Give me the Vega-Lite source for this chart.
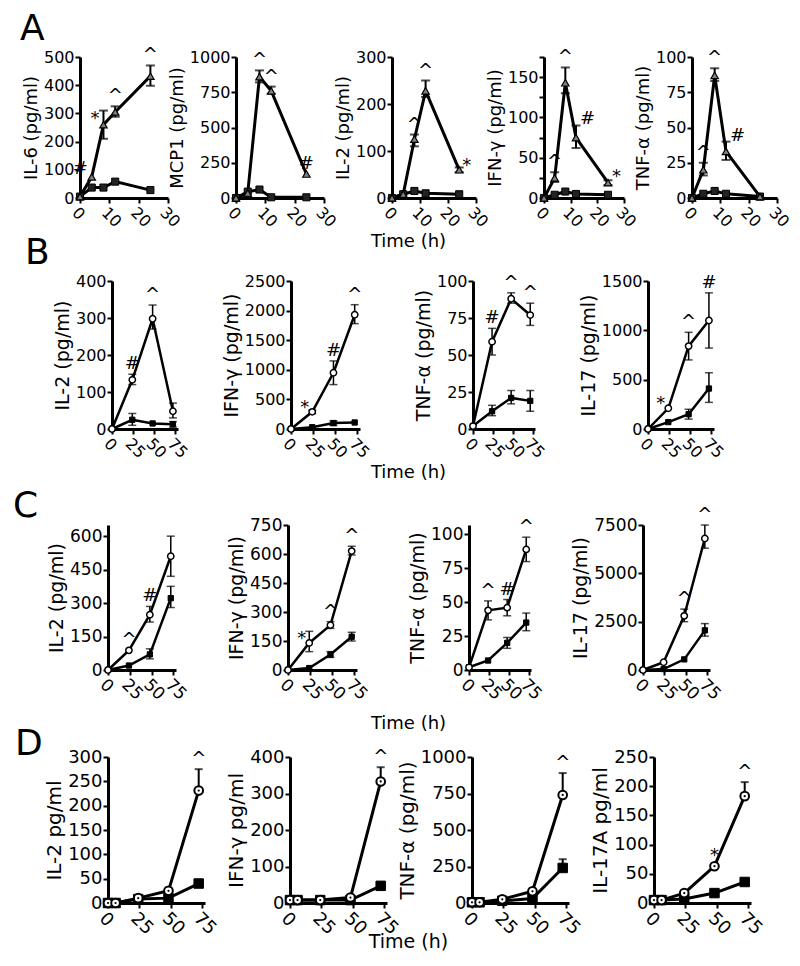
{
"$schema":"https://vega.github.io/schema/vega-lite/v6.json",
"padding":{"left":0,"top":11,"right":5,"bottom":5},
"background":"white",
"datasets":{
"pts":[
{"p":"A1","g":"T","t":0,"v":5},{"p":"A1","g":"T","t":4,"v":75},{"p":"A1","g":"T","t":8,"v":260,"lo":210,"hi":310},{"p":"A1","g":"T","t":12,"v":305,"lo":288,"hi":325},{"p":"A1","g":"T","t":24,"v":432,"lo":398,"hi":470},
{"p":"A1","g":"C","t":0,"v":5},{"p":"A1","g":"C","t":4,"v":37},{"p":"A1","g":"C","t":8,"v":37},{"p":"A1","g":"C","t":12,"v":58},{"p":"A1","g":"C","t":24,"v":28},
{"p":"A2","g":"T","t":0,"v":0},{"p":"A2","g":"T","t":4,"v":35},{"p":"A2","g":"T","t":8,"v":860,"lo":820,"hi":905},{"p":"A2","g":"T","t":12,"v":760,"lo":740,"hi":790},{"p":"A2","g":"T","t":24,"v":170},
{"p":"A2","g":"C","t":0,"v":0},{"p":"A2","g":"C","t":4,"v":45},{"p":"A2","g":"C","t":8,"v":60},{"p":"A2","g":"C","t":12,"v":5},{"p":"A2","g":"C","t":24,"v":5},
{"p":"A3","g":"T","t":0,"v":0},{"p":"A3","g":"T","t":4,"v":8},{"p":"A3","g":"T","t":8,"v":125,"lo":110,"hi":135},{"p":"A3","g":"T","t":12,"v":228,"lo":215,"hi":250},{"p":"A3","g":"T","t":24,"v":60,"lo":55,"hi":65},
{"p":"A3","g":"C","t":0,"v":0},{"p":"A3","g":"C","t":4,"v":8},{"p":"A3","g":"C","t":8,"v":15},{"p":"A3","g":"C","t":12,"v":10},{"p":"A3","g":"C","t":24,"v":8},
{"p":"A4","g":"T","t":0,"v":0},{"p":"A4","g":"T","t":4,"v":25,"lo":20,"hi":32},{"p":"A4","g":"T","t":8,"v":143,"lo":130,"hi":162},{"p":"A4","g":"T","t":12,"v":75,"lo":62,"hi":90},{"p":"A4","g":"T","t":24,"v":19,"lo":16,"hi":22},
{"p":"A4","g":"C","t":0,"v":0},{"p":"A4","g":"C","t":4,"v":4},{"p":"A4","g":"C","t":8,"v":8},{"p":"A4","g":"C","t":12,"v":5},{"p":"A4","g":"C","t":24,"v":4},
{"p":"A5","g":"T","t":0,"v":0},{"p":"A5","g":"T","t":4,"v":20,"lo":16,"hi":25},{"p":"A5","g":"T","t":8,"v":87,"lo":83,"hi":92},{"p":"A5","g":"T","t":12,"v":33,"lo":27,"hi":40},{"p":"A5","g":"T","t":24,"v":1},
{"p":"A5","g":"C","t":0,"v":0},{"p":"A5","g":"C","t":4,"v":3},{"p":"A5","g":"C","t":8,"v":5},{"p":"A5","g":"C","t":12,"v":3},{"p":"A5","g":"C","t":24,"v":1},
{"p":"B1","g":"T","t":0,"v":0},{"p":"B1","g":"T","t":24,"v":133,"lo":120,"hi":148},{"p":"B1","g":"T","t":48,"v":298,"lo":270,"hi":335},{"p":"B1","g":"T","t":72,"v":48,"lo":30,"hi":70},
{"p":"B1","g":"C","t":0,"v":0},{"p":"B1","g":"C","t":24,"v":25,"lo":10,"hi":42},{"p":"B1","g":"C","t":48,"v":15},{"p":"B1","g":"C","t":72,"v":13,"lo":5,"hi":20},
{"p":"B2","g":"T","t":0,"v":0},{"p":"B2","g":"T","t":24,"v":290,"lo":260,"hi":320},{"p":"B2","g":"T","t":48,"v":950,"lo":750,"hi":1150},{"p":"B2","g":"T","t":72,"v":1930,"lo":1780,"hi":2100},
{"p":"B2","g":"C","t":0,"v":0},{"p":"B2","g":"C","t":24,"v":30},{"p":"B2","g":"C","t":48,"v":100,"lo":60,"hi":140},{"p":"B2","g":"C","t":72,"v":110},
{"p":"B3","g":"T","t":0,"v":2},{"p":"B3","g":"T","t":24,"v":59,"lo":50,"hi":68},{"p":"B3","g":"T","t":48,"v":88,"lo":85,"hi":92},{"p":"B3","g":"T","t":72,"v":77,"lo":70,"hi":85},
{"p":"B3","g":"C","t":0,"v":2},{"p":"B3","g":"C","t":24,"v":12,"lo":9,"hi":16},{"p":"B3","g":"C","t":48,"v":21,"lo":17,"hi":26},{"p":"B3","g":"C","t":72,"v":19,"lo":12,"hi":26},
{"p":"B4","g":"T","t":0,"v":0},{"p":"B4","g":"T","t":24,"v":210},{"p":"B4","g":"T","t":48,"v":840,"lo":700,"hi":980},{"p":"B4","g":"T","t":72,"v":1100,"lo":820,"hi":1380},
{"p":"B4","g":"C","t":0,"v":0},{"p":"B4","g":"C","t":24,"v":70},{"p":"B4","g":"C","t":48,"v":150,"lo":100,"hi":200},{"p":"B4","g":"C","t":72,"v":410,"lo":270,"hi":570},
{"p":"C1","g":"T","t":0,"v":0},{"p":"C1","g":"T","t":24,"v":88},{"p":"C1","g":"T","t":48,"v":248,"lo":215,"hi":285},{"p":"C1","g":"T","t":72,"v":510,"lo":420,"hi":600},
{"p":"C1","g":"C","t":0,"v":0},{"p":"C1","g":"C","t":24,"v":20},{"p":"C1","g":"C","t":48,"v":70,"lo":50,"hi":95},{"p":"C1","g":"C","t":72,"v":322,"lo":280,"hi":375},
{"p":"C2","g":"T","t":0,"v":0},{"p":"C2","g":"T","t":24,"v":140,"lo":95,"hi":200},{"p":"C2","g":"T","t":48,"v":232,"lo":215,"hi":250},{"p":"C2","g":"T","t":72,"v":615,"lo":595,"hi":640},
{"p":"C2","g":"C","t":0,"v":0},{"p":"C2","g":"C","t":24,"v":10},{"p":"C2","g":"C","t":48,"v":80,"lo":65,"hi":95},{"p":"C2","g":"C","t":72,"v":172,"lo":150,"hi":195},
{"p":"C3","g":"T","t":0,"v":2},{"p":"C3","g":"T","t":24,"v":44,"lo":37,"hi":51},{"p":"C3","g":"T","t":48,"v":46,"lo":40,"hi":52},{"p":"C3","g":"T","t":72,"v":89,"lo":80,"hi":98},
{"p":"C3","g":"C","t":0,"v":2},{"p":"C3","g":"C","t":24,"v":7},{"p":"C3","g":"C","t":48,"v":20,"lo":16,"hi":24},{"p":"C3","g":"C","t":72,"v":35,"lo":29,"hi":42},
{"p":"C4","g":"T","t":0,"v":0},{"p":"C4","g":"T","t":24,"v":400},{"p":"C4","g":"T","t":48,"v":2800,"lo":2500,"hi":3150},{"p":"C4","g":"T","t":72,"v":6800,"lo":6300,"hi":7500},
{"p":"C4","g":"C","t":0,"v":0},{"p":"C4","g":"C","t":24,"v":50},{"p":"C4","g":"C","t":48,"v":550},{"p":"C4","g":"C","t":72,"v":2050,"lo":1750,"hi":2400},
{"p":"D1","g":"T","t":0,"v":0},{"p":"D1","g":"T","t":6,"v":0},{"p":"D1","g":"T","t":24,"v":10},{"p":"D1","g":"T","t":48,"v":25},{"p":"D1","g":"T","t":72,"v":231,"lo":231,"hi":275},
{"p":"D1","g":"C","t":0,"v":0},{"p":"D1","g":"C","t":6,"v":0},{"p":"D1","g":"C","t":24,"v":8},{"p":"D1","g":"C","t":48,"v":10},{"p":"D1","g":"C","t":72,"v":40},
{"p":"D2","g":"T","t":0,"v":8},{"p":"D2","g":"T","t":6,"v":8},{"p":"D2","g":"T","t":24,"v":8},{"p":"D2","g":"T","t":48,"v":15},{"p":"D2","g":"T","t":72,"v":333,"lo":333,"hi":372},
{"p":"D2","g":"C","t":0,"v":8},{"p":"D2","g":"C","t":6,"v":8},{"p":"D2","g":"C","t":24,"v":8},{"p":"D2","g":"C","t":48,"v":8},{"p":"D2","g":"C","t":72,"v":47},
{"p":"D3","g":"T","t":0,"v":5},{"p":"D3","g":"T","t":6,"v":5},{"p":"D3","g":"T","t":24,"v":25},{"p":"D3","g":"T","t":48,"v":80},{"p":"D3","g":"T","t":72,"v":740,"lo":740,"hi":890},
{"p":"D3","g":"C","t":0,"v":5},{"p":"D3","g":"C","t":6,"v":5},{"p":"D3","g":"C","t":24,"v":15},{"p":"D3","g":"C","t":48,"v":30},{"p":"D3","g":"C","t":72,"v":240,"lo":240,"hi":300},
{"p":"D4","g":"T","t":0,"v":5},{"p":"D4","g":"T","t":6,"v":5},{"p":"D4","g":"T","t":24,"v":17},{"p":"D4","g":"T","t":48,"v":63},{"p":"D4","g":"T","t":72,"v":183,"lo":183,"hi":207},
{"p":"D4","g":"C","t":0,"v":5},{"p":"D4","g":"C","t":6,"v":5},{"p":"D4","g":"C","t":24,"v":7},{"p":"D4","g":"C","t":48,"v":17},{"p":"D4","g":"C","t":72,"v":36}
],
"notes":[
{"p":"A1","t":4,"y":80,"s":"#","side":"l"},{"p":"A1","t":8,"y":260,"s":"*","side":"l"},{"p":"A1","t":12,"y":325,"s":"^","side":"a"},{"p":"A1","t":24,"y":470,"s":"^","side":"a"},
{"p":"A2","t":8,"y":905,"s":"^","side":"a"},{"p":"A2","t":12,"y":790,"s":"^","side":"a"},{"p":"A2","t":24,"y":170,"s":"#","side":"a"},
{"p":"A3","t":8,"y":135,"s":"^","side":"a"},{"p":"A3","t":12,"y":250,"s":"^","side":"a"},{"p":"A3","t":24,"y":60,"s":"*","side":"r"},
{"p":"A4","t":4,"y":32,"s":"^","side":"a"},{"p":"A4","t":8,"y":162,"s":"^","side":"a"},{"p":"A4","t":12,"y":90,"s":"#","side":"r"},{"p":"A4","t":24,"y":19,"s":"*","side":"r"},
{"p":"A5","t":4,"y":25,"s":"^","side":"a"},{"p":"A5","t":8,"y":92,"s":"^","side":"a"},{"p":"A5","t":12,"y":40,"s":"#","side":"r"},
{"p":"B1","t":24,"y":148,"s":"#","side":"a"},{"p":"B1","t":48,"y":335,"s":"^","side":"a"},
{"p":"B2","t":24,"y":290,"s":"*","side":"l"},{"p":"B2","t":48,"y":1150,"s":"#","side":"a"},{"p":"B2","t":72,"y":2100,"s":"^","side":"a"},
{"p":"B3","t":24,"y":68,"s":"#","side":"a"},{"p":"B3","t":48,"y":92,"s":"^","side":"a"},{"p":"B3","t":72,"y":85,"s":"^","side":"a"},
{"p":"B4","t":24,"y":210,"s":"*","side":"l"},{"p":"B4","t":48,"y":980,"s":"^","side":"a"},{"p":"B4","t":72,"y":1380,"s":"#","side":"a"},
{"p":"C1","t":24,"y":88,"s":"^","side":"a"},{"p":"C1","t":48,"y":285,"s":"#","side":"a"},
{"p":"C2","t":24,"y":140,"s":"*","side":"l"},{"p":"C2","t":48,"y":250,"s":"^","side":"a"},{"p":"C2","t":72,"y":640,"s":"^","side":"a"},
{"p":"C3","t":24,"y":51,"s":"^","side":"a"},{"p":"C3","t":48,"y":52,"s":"#","side":"a"},{"p":"C3","t":72,"y":98,"s":"^","side":"a"},
{"p":"C4","t":48,"y":3150,"s":"^","side":"a"},{"p":"C4","t":72,"y":7500,"s":"^","side":"a"},
{"p":"D1","t":72,"y":275,"s":"^","side":"a"},{"p":"D2","t":72,"y":372,"s":"^","side":"a"},{"p":"D3","t":72,"y":890,"s":"^","side":"a"},
{"p":"D4","t":48,"y":63,"s":"*","side":"a"},{"p":"D4","t":72,"y":207,"s":"^","side":"a"}
]
},
"vconcat":[
{"vconcat":[
{"hconcat":[
{"width":80,"height":100,"data":{"values":[{"a":1}]},"mark":{"type":"point","opacity":0},"title":{"text":"A","dx":20,"dy":-5}},
{"hconcat":[
{"width":88,"height":141,
"encoding":{"x":{"field":"t","type":"quantitative","scale":{"domain":[0,30],"nice":false},"axis":{"values":[0,10,20,30],"title":null}},
"y":{"field":"v","type":"quantitative","scale":{"domain":[0,500],"nice":false},"axis":{"values":[0,100,200,300,400,500]},"title":"IL-6 (pg/ml)"}},
"layer":[
{"data":{"name":"pts"},"transform":[{"filter":"datum.p=='A1' && isValid(datum.hi)"}],"mark":{"type":"errorbar","ticks":true,"size":9,"thickness":2,"color":"black"},"encoding":{"y":{"field":"lo","type":"quantitative","title":"IL-6 (pg/ml)"},"y2":{"field":"hi"}}},
{"data":{"name":"pts"},"transform":[{"filter":"datum.p=='A1'"}],"mark":{"type":"line","strokeWidth":3,"color":"black"},"encoding":{"detail":{"field":"g","type":"nominal"}}},
{"data":{"name":"pts"},"transform":[{"filter":"datum.p=='A1' && datum.g=='C'"}],"mark":{"type":"point","shape":"square","filled":true,"fill":"#222222","stroke":"black","strokeWidth":1,"size":50,"opacity":1}},
{"data":{"name":"pts"},"transform":[{"filter":"datum.p=='A1' && datum.g=='T'"}],"mark":{"type":"point","shape":"triangle-up","filled":true,"fill":"#808080","stroke":"black","strokeWidth":1.2,"size":55,"opacity":1}},
{"data":{"name":"notes"},"transform":[{"filter":"datum.p=='A1' && datum.side=='a'"}],"mark":{"type":"text","baseline":"bottom","dy":-1,"fontSize":18},"encoding":{"y":{"field":"y","type":"quantitative","title":"IL-6 (pg/ml)"},"text":{"field":"s","type":"nominal"}}},
{"data":{"name":"notes"},"transform":[{"filter":"datum.p=='A1' && datum.side=='l'"}],"mark":{"type":"text","align":"right","baseline":"middle","dx":-4,"dy":-6,"fontSize":18},"encoding":{"y":{"field":"y","type":"quantitative","title":"IL-6 (pg/ml)"},"text":{"field":"s","type":"nominal"}}}
]},
{"width":88,"height":141,
"encoding":{"x":{"field":"t","type":"quantitative","scale":{"domain":[0,30],"nice":false},"axis":{"values":[0,10,20,30],"title":null}},
"y":{"field":"v","type":"quantitative","scale":{"domain":[0,1000],"nice":false},"axis":{"values":[0,250,500,750,1000]},"title":"MCP1 (pg/ml)"}},
"layer":[
{"data":{"name":"pts"},"transform":[{"filter":"datum.p=='A2' && isValid(datum.hi)"}],"mark":{"type":"errorbar","ticks":true,"size":9,"thickness":2,"color":"black"},"encoding":{"y":{"field":"lo","type":"quantitative","title":"MCP1 (pg/ml)"},"y2":{"field":"hi"}}},
{"data":{"name":"pts"},"transform":[{"filter":"datum.p=='A2'"}],"mark":{"type":"line","strokeWidth":3,"color":"black"},"encoding":{"detail":{"field":"g","type":"nominal"}}},
{"data":{"name":"pts"},"transform":[{"filter":"datum.p=='A2' && datum.g=='C'"}],"mark":{"type":"point","shape":"square","filled":true,"fill":"#222222","stroke":"black","strokeWidth":1,"size":50,"opacity":1}},
{"data":{"name":"pts"},"transform":[{"filter":"datum.p=='A2' && datum.g=='T'"}],"mark":{"type":"point","shape":"triangle-up","filled":true,"fill":"#808080","stroke":"black","strokeWidth":1.2,"size":55,"opacity":1}},
{"data":{"name":"notes"},"transform":[{"filter":"datum.p=='A2' && datum.side=='a'"}],"mark":{"type":"text","baseline":"bottom","dy":-1,"fontSize":18},"encoding":{"y":{"field":"y","type":"quantitative","title":"MCP1 (pg/ml)"},"text":{"field":"s","type":"nominal"}}}
]},
{"width":84,"height":141,
"encoding":{"x":{"field":"t","type":"quantitative","scale":{"domain":[0,30],"nice":false},"axis":{"values":[0,10,20,30],"title":"Time (h)","titleX":16,"titleY":34,"titleAlign":"center","titleBaseline":"top"}},
"y":{"field":"v","type":"quantitative","scale":{"domain":[0,300],"nice":false},"axis":{"values":[0,100,200,300]},"title":"IL-2 (pg/ml)"}},
"layer":[
{"data":{"name":"pts"},"transform":[{"filter":"datum.p=='A3' && isValid(datum.hi)"}],"mark":{"type":"errorbar","ticks":true,"size":9,"thickness":2,"color":"black"},"encoding":{"y":{"field":"lo","type":"quantitative","title":"IL-2 (pg/ml)"},"y2":{"field":"hi"}}},
{"data":{"name":"pts"},"transform":[{"filter":"datum.p=='A3'"}],"mark":{"type":"line","strokeWidth":3,"color":"black"},"encoding":{"detail":{"field":"g","type":"nominal"}}},
{"data":{"name":"pts"},"transform":[{"filter":"datum.p=='A3' && datum.g=='C'"}],"mark":{"type":"point","shape":"square","filled":true,"fill":"#222222","stroke":"black","strokeWidth":1,"size":50,"opacity":1}},
{"data":{"name":"pts"},"transform":[{"filter":"datum.p=='A3' && datum.g=='T'"}],"mark":{"type":"point","shape":"triangle-up","filled":true,"fill":"#808080","stroke":"black","strokeWidth":1.2,"size":55,"opacity":1}},
{"data":{"name":"notes"},"transform":[{"filter":"datum.p=='A3' && datum.side=='a'"}],"mark":{"type":"text","baseline":"bottom","dy":-1,"fontSize":18},"encoding":{"y":{"field":"y","type":"quantitative","title":"IL-2 (pg/ml)"},"text":{"field":"s","type":"nominal"}}},
{"data":{"name":"notes"},"transform":[{"filter":"datum.p=='A3' && datum.side=='r'"}],"mark":{"type":"text","align":"left","baseline":"middle","dx":3,"dy":-4,"fontSize":18},"encoding":{"y":{"field":"y","type":"quantitative","title":"IL-2 (pg/ml)"},"text":{"field":"s","type":"nominal"}}}
]},
{"width":80,"height":141,
"encoding":{"x":{"field":"t","type":"quantitative","scale":{"domain":[0,30],"nice":false},"axis":{"values":[0,10,20,30],"title":null}},
"y":{"field":"v","type":"quantitative","scale":{"domain":[0,175],"nice":false},"axis":{"values":[0,25,50,75,100,125,150,175],"labelExpr":"datum.value % 50 == 0 ? datum.label : ''"},"title":"IFN-γ (pg/ml)"}},
"layer":[
{"data":{"name":"pts"},"transform":[{"filter":"datum.p=='A4' && isValid(datum.hi)"}],"mark":{"type":"errorbar","ticks":true,"size":9,"thickness":2,"color":"black"},"encoding":{"y":{"field":"lo","type":"quantitative","title":"IFN-γ (pg/ml)"},"y2":{"field":"hi"}}},
{"data":{"name":"pts"},"transform":[{"filter":"datum.p=='A4'"}],"mark":{"type":"line","strokeWidth":3,"color":"black"},"encoding":{"detail":{"field":"g","type":"nominal"}}},
{"data":{"name":"pts"},"transform":[{"filter":"datum.p=='A4' && datum.g=='C'"}],"mark":{"type":"point","shape":"square","filled":true,"fill":"#222222","stroke":"black","strokeWidth":1,"size":50,"opacity":1}},
{"data":{"name":"pts"},"transform":[{"filter":"datum.p=='A4' && datum.g=='T'"}],"mark":{"type":"point","shape":"triangle-up","filled":true,"fill":"#808080","stroke":"black","strokeWidth":1.2,"size":55,"opacity":1}},
{"data":{"name":"notes"},"transform":[{"filter":"datum.p=='A4' && datum.side=='a'"}],"mark":{"type":"text","baseline":"bottom","dy":-1,"fontSize":18},"encoding":{"y":{"field":"y","type":"quantitative","title":"IFN-γ (pg/ml)"},"text":{"field":"s","type":"nominal"}}},
{"data":{"name":"notes"},"transform":[{"filter":"datum.p=='A4' && datum.side=='r'"}],"mark":{"type":"text","align":"left","baseline":"middle","dx":4,"dy":-6,"fontSize":18},"encoding":{"y":{"field":"y","type":"quantitative","title":"IFN-γ (pg/ml)"},"text":{"field":"s","type":"nominal"}}}
]},
{"width":85,"height":141,
"encoding":{"x":{"field":"t","type":"quantitative","scale":{"domain":[0,30],"nice":false},"axis":{"values":[0,10,20,30],"title":null}},
"y":{"field":"v","type":"quantitative","scale":{"domain":[0,100],"nice":false},"axis":{"values":[0,25,50,75,100]},"title":"TNF-α (pg/ml)"}},
"layer":[
{"data":{"name":"pts"},"transform":[{"filter":"datum.p=='A5' && isValid(datum.hi)"}],"mark":{"type":"errorbar","ticks":true,"size":9,"thickness":2,"color":"black"},"encoding":{"y":{"field":"lo","type":"quantitative","title":"TNF-α (pg/ml)"},"y2":{"field":"hi"}}},
{"data":{"name":"pts"},"transform":[{"filter":"datum.p=='A5'"}],"mark":{"type":"line","strokeWidth":3,"color":"black"},"encoding":{"detail":{"field":"g","type":"nominal"}}},
{"data":{"name":"pts"},"transform":[{"filter":"datum.p=='A5' && datum.g=='C'"}],"mark":{"type":"point","shape":"square","filled":true,"fill":"#222222","stroke":"black","strokeWidth":1,"size":50,"opacity":1}},
{"data":{"name":"pts"},"transform":[{"filter":"datum.p=='A5' && datum.g=='T'"}],"mark":{"type":"point","shape":"triangle-up","filled":true,"fill":"#808080","stroke":"black","strokeWidth":1.2,"size":55,"opacity":1}},
{"data":{"name":"notes"},"transform":[{"filter":"datum.p=='A5' && datum.side=='a'"}],"mark":{"type":"text","baseline":"bottom","dy":-1,"fontSize":18},"encoding":{"y":{"field":"y","type":"quantitative","title":"TNF-α (pg/ml)"},"text":{"field":"s","type":"nominal"}}},
{"data":{"name":"notes"},"transform":[{"filter":"datum.p=='A5' && datum.side=='r'"}],"mark":{"type":"text","align":"left","baseline":"middle","dx":4,"dy":-6,"fontSize":18},"encoding":{"y":{"field":"y","type":"quantitative","title":"TNF-α (pg/ml)"},"text":{"field":"s","type":"nominal"}}}
]}
],"spacing":68,"bounds":"flush"}
],"spacing":0,"bounds":"flush"},
{"hconcat":[
{"width":112,"height":100,"data":{"values":[{"a":1}]},"mark":{"type":"point","opacity":0},"title":{"text":"B","dx":25,"dy":-5}},
{"hconcat":[
{"width":66,"height":148,
"encoding":{"x":{"field":"t","type":"quantitative","scale":{"domain":[0,78],"nice":false},"axis":{"values":[0,25,50,75],"title":null}},
"y":{"field":"v","type":"quantitative","scale":{"domain":[0,400],"nice":false},"axis":{"values":[0,100,200,300,400],"titleFontSize":19},"title":"IL-2 (pg/ml)"}},
"layer":[
{"data":{"name":"pts"},"transform":[{"filter":"datum.p=='B1' && isValid(datum.hi)"}],"mark":{"type":"errorbar","ticks":true,"size":8,"thickness":1.5,"color":"black"},"encoding":{"y":{"field":"lo","type":"quantitative","title":"IL-2 (pg/ml)"},"y2":{"field":"hi"}}},
{"data":{"name":"pts"},"transform":[{"filter":"datum.p=='B1'"}],"mark":{"type":"line","strokeWidth":2.5,"color":"black"},"encoding":{"detail":{"field":"g","type":"nominal"}}},
{"data":{"name":"pts"},"transform":[{"filter":"datum.p=='B1' && datum.g=='C'"}],"mark":{"type":"point","shape":"square","filled":true,"fill":"black","stroke":"black","strokeWidth":1,"size":28,"opacity":1}},
{"data":{"name":"pts"},"transform":[{"filter":"datum.p=='B1' && datum.g=='T'"}],"mark":{"type":"point","shape":"circle","filled":true,"fill":"white","stroke":"black","strokeWidth":1.5,"size":40,"opacity":1}},
{"data":{"name":"notes"},"transform":[{"filter":"datum.p=='B1' && datum.side=='a'"}],"mark":{"type":"text","baseline":"bottom","dy":-1,"fontSize":18},"encoding":{"y":{"field":"y","type":"quantitative","title":"IL-2 (pg/ml)"},"text":{"field":"s","type":"nominal"}}}
]},
{"width":69,"height":148,
"encoding":{"x":{"field":"t","type":"quantitative","scale":{"domain":[0,78],"nice":false},"axis":{"values":[0,25,50,75],"title":"Time (h)","titleX":117,"titleY":34,"titleAlign":"center","titleBaseline":"top"}},
"y":{"field":"v","type":"quantitative","scale":{"domain":[0,2500],"nice":false},"axis":{"values":[0,500,1000,1500,2000,2500],"titleFontSize":19},"title":"IFN-γ (pg/ml)"}},
"layer":[
{"data":{"name":"pts"},"transform":[{"filter":"datum.p=='B2' && isValid(datum.hi)"}],"mark":{"type":"errorbar","ticks":true,"size":8,"thickness":1.5,"color":"black"},"encoding":{"y":{"field":"lo","type":"quantitative","title":"IFN-γ (pg/ml)"},"y2":{"field":"hi"}}},
{"data":{"name":"pts"},"transform":[{"filter":"datum.p=='B2'"}],"mark":{"type":"line","strokeWidth":2.5,"color":"black"},"encoding":{"detail":{"field":"g","type":"nominal"}}},
{"data":{"name":"pts"},"transform":[{"filter":"datum.p=='B2' && datum.g=='C'"}],"mark":{"type":"point","shape":"square","filled":true,"fill":"black","stroke":"black","strokeWidth":1,"size":28,"opacity":1}},
{"data":{"name":"pts"},"transform":[{"filter":"datum.p=='B2' && datum.g=='T'"}],"mark":{"type":"point","shape":"circle","filled":true,"fill":"white","stroke":"black","strokeWidth":1.5,"size":40,"opacity":1}},
{"data":{"name":"notes"},"transform":[{"filter":"datum.p=='B2' && datum.side=='a'"}],"mark":{"type":"text","baseline":"bottom","dy":-1,"fontSize":18},"encoding":{"y":{"field":"y","type":"quantitative","title":"IFN-γ (pg/ml)"},"text":{"field":"s","type":"nominal"}}},
{"data":{"name":"notes"},"transform":[{"filter":"datum.p=='B2' && datum.side=='l'"}],"mark":{"type":"text","align":"right","baseline":"middle","dx":-3,"dy":-4,"fontSize":18},"encoding":{"y":{"field":"y","type":"quantitative","title":"IFN-γ (pg/ml)"},"text":{"field":"s","type":"nominal"}}}
]},
{"width":62,"height":148,
"encoding":{"x":{"field":"t","type":"quantitative","scale":{"domain":[0,78],"nice":false},"axis":{"values":[0,25,50,75],"title":null}},
"y":{"field":"v","type":"quantitative","scale":{"domain":[0,100],"nice":false},"axis":{"values":[0,25,50,75,100],"titleFontSize":19},"title":"TNF-α (pg/ml)"}},
"layer":[
{"data":{"name":"pts"},"transform":[{"filter":"datum.p=='B3' && isValid(datum.hi)"}],"mark":{"type":"errorbar","ticks":true,"size":8,"thickness":1.5,"color":"black"},"encoding":{"y":{"field":"lo","type":"quantitative","title":"TNF-α (pg/ml)"},"y2":{"field":"hi"}}},
{"data":{"name":"pts"},"transform":[{"filter":"datum.p=='B3'"}],"mark":{"type":"line","strokeWidth":2.5,"color":"black"},"encoding":{"detail":{"field":"g","type":"nominal"}}},
{"data":{"name":"pts"},"transform":[{"filter":"datum.p=='B3' && datum.g=='C'"}],"mark":{"type":"point","shape":"square","filled":true,"fill":"black","stroke":"black","strokeWidth":1,"size":28,"opacity":1}},
{"data":{"name":"pts"},"transform":[{"filter":"datum.p=='B3' && datum.g=='T'"}],"mark":{"type":"point","shape":"circle","filled":true,"fill":"white","stroke":"black","strokeWidth":1.5,"size":40,"opacity":1}},
{"data":{"name":"notes"},"transform":[{"filter":"datum.p=='B3' && datum.side=='a'"}],"mark":{"type":"text","baseline":"bottom","dy":-1,"fontSize":18},"encoding":{"y":{"field":"y","type":"quantitative","title":"TNF-α (pg/ml)"},"text":{"field":"s","type":"nominal"}}}
]},
{"width":66,"height":148,
"encoding":{"x":{"field":"t","type":"quantitative","scale":{"domain":[0,78],"nice":false},"axis":{"values":[0,25,50,75],"title":null}},
"y":{"field":"v","type":"quantitative","scale":{"domain":[0,1500],"nice":false},"axis":{"values":[0,500,1000,1500],"titleFontSize":19},"title":"IL-17 (pg/ml)"}},
"layer":[
{"data":{"name":"pts"},"transform":[{"filter":"datum.p=='B4' && isValid(datum.hi)"}],"mark":{"type":"errorbar","ticks":true,"size":8,"thickness":1.5,"color":"black"},"encoding":{"y":{"field":"lo","type":"quantitative","title":"IL-17 (pg/ml)"},"y2":{"field":"hi"}}},
{"data":{"name":"pts"},"transform":[{"filter":"datum.p=='B4'"}],"mark":{"type":"line","strokeWidth":2.5,"color":"black"},"encoding":{"detail":{"field":"g","type":"nominal"}}},
{"data":{"name":"pts"},"transform":[{"filter":"datum.p=='B4' && datum.g=='C'"}],"mark":{"type":"point","shape":"square","filled":true,"fill":"black","stroke":"black","strokeWidth":1,"size":28,"opacity":1}},
{"data":{"name":"pts"},"transform":[{"filter":"datum.p=='B4' && datum.g=='T'"}],"mark":{"type":"point","shape":"circle","filled":true,"fill":"white","stroke":"black","strokeWidth":1.5,"size":40,"opacity":1}},
{"data":{"name":"notes"},"transform":[{"filter":"datum.p=='B4' && datum.side=='a'"}],"mark":{"type":"text","baseline":"bottom","dy":-1,"fontSize":18},"encoding":{"y":{"field":"y","type":"quantitative","title":"IL-17 (pg/ml)"},"text":{"field":"s","type":"nominal"}}},
{"data":{"name":"notes"},"transform":[{"filter":"datum.p=='B4' && datum.side=='l'"}],"mark":{"type":"text","align":"right","baseline":"middle","dx":-3,"dy":-4,"fontSize":18},"encoding":{"y":{"field":"y","type":"quantitative","title":"IL-17 (pg/ml)"},"text":{"field":"s","type":"nominal"}}}
]}
],"spacing":113,"bounds":"flush"}
],"spacing":0,"bounds":"flush"}
],"spacing":224,"bounds":"flush"},
{"vconcat":[
{"hconcat":[
{"width":108,"height":100,"data":{"values":[{"a":1}]},"mark":{"type":"point","opacity":0},"title":{"text":"C","dx":13,"dy":4}},
{"hconcat":[
{"width":68,"height":145,
"encoding":{"x":{"field":"t","type":"quantitative","scale":{"domain":[0,78],"nice":false},"axis":{"values":[0,25,50,75],"title":null,"labelFontSize":17}},
"y":{"field":"v","type":"quantitative","scale":{"domain":[0,650],"nice":false},"axis":{"values":[0,150,300,450,600],"labelFontSize":17,"titleFontSize":19},"title":"IL-2 (pg/ml)"}},
"layer":[
{"data":{"name":"pts"},"transform":[{"filter":"datum.p=='C1' && isValid(datum.hi)"}],"mark":{"type":"errorbar","ticks":true,"size":8,"thickness":1.5,"color":"black"},"encoding":{"y":{"field":"lo","type":"quantitative","title":"IL-2 (pg/ml)"},"y2":{"field":"hi"}}},
{"data":{"name":"pts"},"transform":[{"filter":"datum.p=='C1'"}],"mark":{"type":"line","strokeWidth":2.5,"color":"black"},"encoding":{"detail":{"field":"g","type":"nominal"}}},
{"data":{"name":"pts"},"transform":[{"filter":"datum.p=='C1' && datum.g=='C'"}],"mark":{"type":"point","shape":"square","filled":true,"fill":"black","stroke":"black","strokeWidth":1,"size":28,"opacity":1}},
{"data":{"name":"pts"},"transform":[{"filter":"datum.p=='C1' && datum.g=='T'"}],"mark":{"type":"point","shape":"circle","filled":true,"fill":"white","stroke":"black","strokeWidth":1.5,"size":40,"opacity":1}},
{"data":{"name":"notes"},"transform":[{"filter":"datum.p=='C1' && datum.side=='a'"}],"mark":{"type":"text","baseline":"bottom","dy":-1,"fontSize":18},"encoding":{"y":{"field":"y","type":"quantitative","title":"IL-2 (pg/ml)"},"text":{"field":"s","type":"nominal"}}}
]},
{"width":69,"height":145,
"encoding":{"x":{"field":"t","type":"quantitative","scale":{"domain":[0,78],"nice":false},"axis":{"values":[0,25,50,75],"labelFontSize":17,"title":"Time (h)","titleX":120,"titleY":44,"titleAlign":"center","titleBaseline":"top"}},
"y":{"field":"v","type":"quantitative","scale":{"domain":[0,750],"nice":false},"axis":{"values":[0,150,300,450,600,750],"labelFontSize":17,"titleFontSize":19},"title":"IFN-γ (pg/ml)"}},
"layer":[
{"data":{"name":"pts"},"transform":[{"filter":"datum.p=='C2' && isValid(datum.hi)"}],"mark":{"type":"errorbar","ticks":true,"size":8,"thickness":1.5,"color":"black"},"encoding":{"y":{"field":"lo","type":"quantitative","title":"IFN-γ (pg/ml)"},"y2":{"field":"hi"}}},
{"data":{"name":"pts"},"transform":[{"filter":"datum.p=='C2'"}],"mark":{"type":"line","strokeWidth":2.5,"color":"black"},"encoding":{"detail":{"field":"g","type":"nominal"}}},
{"data":{"name":"pts"},"transform":[{"filter":"datum.p=='C2' && datum.g=='C'"}],"mark":{"type":"point","shape":"square","filled":true,"fill":"black","stroke":"black","strokeWidth":1,"size":28,"opacity":1}},
{"data":{"name":"pts"},"transform":[{"filter":"datum.p=='C2' && datum.g=='T'"}],"mark":{"type":"point","shape":"circle","filled":true,"fill":"white","stroke":"black","strokeWidth":1.5,"size":40,"opacity":1}},
{"data":{"name":"notes"},"transform":[{"filter":"datum.p=='C2' && datum.side=='a'"}],"mark":{"type":"text","baseline":"bottom","dy":-1,"fontSize":18},"encoding":{"y":{"field":"y","type":"quantitative","title":"IFN-γ (pg/ml)"},"text":{"field":"s","type":"nominal"}}},
{"data":{"name":"notes"},"transform":[{"filter":"datum.p=='C2' && datum.side=='l'"}],"mark":{"type":"text","align":"right","baseline":"middle","dx":-3,"dy":-4,"fontSize":18},"encoding":{"y":{"field":"y","type":"quantitative","title":"IFN-γ (pg/ml)"},"text":{"field":"s","type":"nominal"}}}
]},
{"width":62,"height":145,
"encoding":{"x":{"field":"t","type":"quantitative","scale":{"domain":[0,78],"nice":false},"axis":{"values":[0,25,50,75],"title":null,"labelFontSize":17}},
"y":{"field":"v","type":"quantitative","scale":{"domain":[0,107],"nice":false},"axis":{"values":[0,25,50,75,100],"labelFontSize":17,"titleFontSize":19},"title":"TNF-α (pg/ml)"}},
"layer":[
{"data":{"name":"pts"},"transform":[{"filter":"datum.p=='C3' && isValid(datum.hi)"}],"mark":{"type":"errorbar","ticks":true,"size":8,"thickness":1.5,"color":"black"},"encoding":{"y":{"field":"lo","type":"quantitative","title":"TNF-α (pg/ml)"},"y2":{"field":"hi"}}},
{"data":{"name":"pts"},"transform":[{"filter":"datum.p=='C3'"}],"mark":{"type":"line","strokeWidth":2.5,"color":"black"},"encoding":{"detail":{"field":"g","type":"nominal"}}},
{"data":{"name":"pts"},"transform":[{"filter":"datum.p=='C3' && datum.g=='C'"}],"mark":{"type":"point","shape":"square","filled":true,"fill":"black","stroke":"black","strokeWidth":1,"size":28,"opacity":1}},
{"data":{"name":"pts"},"transform":[{"filter":"datum.p=='C3' && datum.g=='T'"}],"mark":{"type":"point","shape":"circle","filled":true,"fill":"white","stroke":"black","strokeWidth":1.5,"size":40,"opacity":1}},
{"data":{"name":"notes"},"transform":[{"filter":"datum.p=='C3' && datum.side=='a'"}],"mark":{"type":"text","baseline":"bottom","dy":-1,"fontSize":18},"encoding":{"y":{"field":"y","type":"quantitative","title":"TNF-α (pg/ml)"},"text":{"field":"s","type":"nominal"}}}
]},
{"width":67,"height":145,
"encoding":{"x":{"field":"t","type":"quantitative","scale":{"domain":[0,78],"nice":false},"axis":{"values":[0,25,50,75],"title":null,"labelFontSize":17}},
"y":{"field":"v","type":"quantitative","scale":{"domain":[0,7500],"nice":false},"axis":{"values":[0,2500,5000,7500],"labelFontSize":17,"titleFontSize":19},"title":"IL-17 (pg/ml)"}},
"layer":[
{"data":{"name":"pts"},"transform":[{"filter":"datum.p=='C4' && isValid(datum.hi)"}],"mark":{"type":"errorbar","ticks":true,"size":8,"thickness":1.5,"color":"black"},"encoding":{"y":{"field":"lo","type":"quantitative","title":"IL-17 (pg/ml)"},"y2":{"field":"hi"}}},
{"data":{"name":"pts"},"transform":[{"filter":"datum.p=='C4'"}],"mark":{"type":"line","strokeWidth":2.5,"color":"black"},"encoding":{"detail":{"field":"g","type":"nominal"}}},
{"data":{"name":"pts"},"transform":[{"filter":"datum.p=='C4' && datum.g=='C'"}],"mark":{"type":"point","shape":"square","filled":true,"fill":"black","stroke":"black","strokeWidth":1,"size":28,"opacity":1}},
{"data":{"name":"pts"},"transform":[{"filter":"datum.p=='C4' && datum.g=='T'"}],"mark":{"type":"point","shape":"circle","filled":true,"fill":"white","stroke":"black","strokeWidth":1.5,"size":40,"opacity":1}},
{"data":{"name":"notes"},"transform":[{"filter":"datum.p=='C4' && datum.side=='a'"}],"mark":{"type":"text","baseline":"bottom","dy":-1,"fontSize":18},"encoding":{"y":{"field":"y","type":"quantitative","title":"IL-17 (pg/ml)"},"text":{"field":"s","type":"nominal"}}}
]}
],"spacing":112,"bounds":"flush"}
],"spacing":0,"bounds":"flush"},
{"hconcat":[
{"width":108,"height":100,"data":{"values":[{"a":1}]},"mark":{"type":"point","opacity":0},"title":{"text":"D","dx":15,"dy":10}},
{"hconcat":[
{"width":97,"height":146,
"encoding":{"x":{"field":"t","type":"quantitative","scale":{"domain":[0,77],"nice":false},"axis":{"values":[0,25,50,75],"title":null,"labelFontSize":18}},
"y":{"field":"v","type":"quantitative","scale":{"domain":[0,300],"nice":false},"axis":{"values":[0,50,100,150,200,250,300],"labelFontSize":18,"titleFontSize":20},"title":"IL-2 pg/ml"}},
"layer":[
{"data":{"name":"pts"},"transform":[{"filter":"datum.p=='D1' && isValid(datum.hi)"}],"mark":{"type":"errorbar","ticks":true,"size":8,"thickness":2,"color":"black"},"encoding":{"y":{"field":"lo","type":"quantitative","title":"IL-2 pg/ml"},"y2":{"field":"hi"}}},
{"data":{"name":"pts"},"transform":[{"filter":"datum.p=='D1'"}],"mark":{"type":"line","strokeWidth":3,"color":"black"},"encoding":{"detail":{"field":"g","type":"nominal"}}},
{"data":{"name":"pts"},"transform":[{"filter":"datum.p=='D1' && datum.g=='C'"}],"mark":{"type":"point","shape":"square","filled":true,"fill":"black","stroke":"black","strokeWidth":1,"size":90,"opacity":1}},
{"data":{"name":"pts"},"transform":[{"filter":"datum.p=='D1' && datum.g=='T'"}],"mark":{"type":"point","shape":"circle","filled":true,"fill":"white","stroke":"black","strokeWidth":2,"size":75,"opacity":1}},
{"data":{"name":"pts"},"transform":[{"filter":"datum.p=='D1' && datum.g=='T'"}],"mark":{"type":"point","shape":"circle","filled":true,"fill":"black","strokeWidth":0,"size":5,"opacity":1}},
{"data":{"name":"notes"},"transform":[{"filter":"datum.p=='D1' && datum.side=='a'"}],"mark":{"type":"text","baseline":"bottom","dy":-1,"fontSize":18},"encoding":{"y":{"field":"y","type":"quantitative","title":"IL-2 pg/ml"},"text":{"field":"s","type":"nominal"}}}
]},
{"width":97,"height":146,
"encoding":{"x":{"field":"t","type":"quantitative","scale":{"domain":[0,77],"nice":false},"axis":{"values":[0,25,50,75],"labelFontSize":18,"title":"Time (h)","titleX":118,"titleY":29,"titleAlign":"center","titleBaseline":"top","titleFontSize":19}},
"y":{"field":"v","type":"quantitative","scale":{"domain":[0,400],"nice":false},"axis":{"values":[0,100,200,300,400],"labelFontSize":18,"titleFontSize":20},"title":"IFN-γ pg/ml"}},
"layer":[
{"data":{"name":"pts"},"transform":[{"filter":"datum.p=='D2' && isValid(datum.hi)"}],"mark":{"type":"errorbar","ticks":true,"size":8,"thickness":2,"color":"black"},"encoding":{"y":{"field":"lo","type":"quantitative","title":"IFN-γ pg/ml"},"y2":{"field":"hi"}}},
{"data":{"name":"pts"},"transform":[{"filter":"datum.p=='D2'"}],"mark":{"type":"line","strokeWidth":3,"color":"black"},"encoding":{"detail":{"field":"g","type":"nominal"}}},
{"data":{"name":"pts"},"transform":[{"filter":"datum.p=='D2' && datum.g=='C'"}],"mark":{"type":"point","shape":"square","filled":true,"fill":"black","stroke":"black","strokeWidth":1,"size":90,"opacity":1}},
{"data":{"name":"pts"},"transform":[{"filter":"datum.p=='D2' && datum.g=='T'"}],"mark":{"type":"point","shape":"circle","filled":true,"fill":"white","stroke":"black","strokeWidth":2,"size":75,"opacity":1}},
{"data":{"name":"pts"},"transform":[{"filter":"datum.p=='D2' && datum.g=='T'"}],"mark":{"type":"point","shape":"circle","filled":true,"fill":"black","strokeWidth":0,"size":5,"opacity":1}},
{"data":{"name":"notes"},"transform":[{"filter":"datum.p=='D2' && datum.side=='a'"}],"mark":{"type":"text","baseline":"bottom","dy":-1,"fontSize":18},"encoding":{"y":{"field":"y","type":"quantitative","title":"IFN-γ pg/ml"},"text":{"field":"s","type":"nominal"}}}
]},
{"width":97,"height":146,
"encoding":{"x":{"field":"t","type":"quantitative","scale":{"domain":[0,77],"nice":false},"axis":{"values":[0,25,50,75],"title":null,"labelFontSize":18}},
"y":{"field":"v","type":"quantitative","scale":{"domain":[0,1000],"nice":false},"axis":{"values":[0,250,500,750,1000],"labelFontSize":18,"titleFontSize":20},"title":"TNF-α (pg/ml)"}},
"layer":[
{"data":{"name":"pts"},"transform":[{"filter":"datum.p=='D3' && isValid(datum.hi)"}],"mark":{"type":"errorbar","ticks":true,"size":8,"thickness":2,"color":"black"},"encoding":{"y":{"field":"lo","type":"quantitative","title":"TNF-α (pg/ml)"},"y2":{"field":"hi"}}},
{"data":{"name":"pts"},"transform":[{"filter":"datum.p=='D3'"}],"mark":{"type":"line","strokeWidth":3,"color":"black"},"encoding":{"detail":{"field":"g","type":"nominal"}}},
{"data":{"name":"pts"},"transform":[{"filter":"datum.p=='D3' && datum.g=='C'"}],"mark":{"type":"point","shape":"square","filled":true,"fill":"black","stroke":"black","strokeWidth":1,"size":90,"opacity":1}},
{"data":{"name":"pts"},"transform":[{"filter":"datum.p=='D3' && datum.g=='T'"}],"mark":{"type":"point","shape":"circle","filled":true,"fill":"white","stroke":"black","strokeWidth":2,"size":75,"opacity":1}},
{"data":{"name":"pts"},"transform":[{"filter":"datum.p=='D3' && datum.g=='T'"}],"mark":{"type":"point","shape":"circle","filled":true,"fill":"black","strokeWidth":0,"size":5,"opacity":1}},
{"data":{"name":"notes"},"transform":[{"filter":"datum.p=='D3' && datum.side=='a'"}],"mark":{"type":"text","baseline":"bottom","dy":-1,"fontSize":18},"encoding":{"y":{"field":"y","type":"quantitative","title":"TNF-α (pg/ml)"},"text":{"field":"s","type":"nominal"}}}
]},
{"width":97,"height":146,
"encoding":{"x":{"field":"t","type":"quantitative","scale":{"domain":[0,77],"nice":false},"axis":{"values":[0,25,50,75],"title":null,"labelFontSize":18}},
"y":{"field":"v","type":"quantitative","scale":{"domain":[0,250],"nice":false},"axis":{"values":[0,50,100,150,200,250],"labelFontSize":18,"titleFontSize":20},"title":"IL-17A pg/ml"}},
"layer":[
{"data":{"name":"pts"},"transform":[{"filter":"datum.p=='D4' && isValid(datum.hi)"}],"mark":{"type":"errorbar","ticks":true,"size":8,"thickness":2,"color":"black"},"encoding":{"y":{"field":"lo","type":"quantitative","title":"IL-17A pg/ml"},"y2":{"field":"hi"}}},
{"data":{"name":"pts"},"transform":[{"filter":"datum.p=='D4'"}],"mark":{"type":"line","strokeWidth":3,"color":"black"},"encoding":{"detail":{"field":"g","type":"nominal"}}},
{"data":{"name":"pts"},"transform":[{"filter":"datum.p=='D4' && datum.g=='C'"}],"mark":{"type":"point","shape":"square","filled":true,"fill":"black","stroke":"black","strokeWidth":1,"size":90,"opacity":1}},
{"data":{"name":"pts"},"transform":[{"filter":"datum.p=='D4' && datum.g=='T'"}],"mark":{"type":"point","shape":"circle","filled":true,"fill":"white","stroke":"black","strokeWidth":2,"size":75,"opacity":1}},
{"data":{"name":"pts"},"transform":[{"filter":"datum.p=='D4' && datum.g=='T'"}],"mark":{"type":"point","shape":"circle","filled":true,"fill":"black","strokeWidth":0,"size":5,"opacity":1}},
{"data":{"name":"notes"},"transform":[{"filter":"datum.p=='D4' && datum.side=='a'"}],"mark":{"type":"text","baseline":"bottom","dy":-1,"fontSize":18},"encoding":{"y":{"field":"y","type":"quantitative","title":"IL-17A pg/ml"},"text":{"field":"s","type":"nominal"}}}
]}
],"spacing":85,"bounds":"flush"}
],"spacing":0,"bounds":"flush"}
],"spacing":232,"bounds":"flush"}
],
"spacing":468,
"bounds":"flush",
"config":{
"font":"DejaVu Sans",
"numberFormat":"d",
"view":{"stroke":null},
"axis":{"domainColor":"black","domainWidth":3,"tickColor":"black","tickWidth":2,"tickSize":5,"labelColor":"black","titleColor":"black","labelFontSize":16,"titleFontSize":18,"titleFontWeight":"normal","grid":false,"labelPadding":1,"titlePadding":3,"labelOverlap":false,"labelFlush":false,"labelBound":false,"labelFont":"DejaVu Sans","titleFont":"DejaVu Sans"},
"axisX":{"labelAngle":45,"labelAlign":"left","labelBaseline":"top"},
"title":{"fontSize":36,"fontWeight":"normal","anchor":"start","frame":"group","offset":0,"baseline":"top","color":"black","font":"DejaVu Sans"},
"text":{"color":"black","font":"DejaVu Sans"}
}
}
